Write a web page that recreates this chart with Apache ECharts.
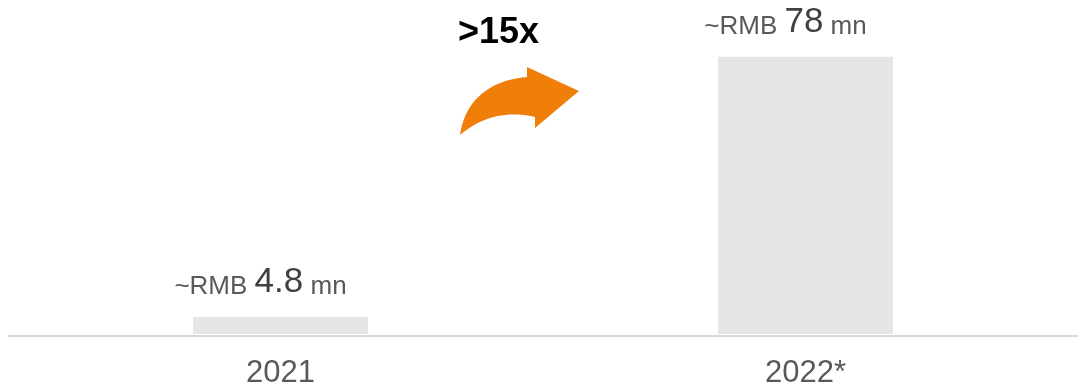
<!DOCTYPE html>
<html>
<head>
<meta charset="utf-8">
<script src="https://cdn.jsdelivr.net/npm/echarts@6/dist/echarts.min.js"></script>
<style>
    html, body { margin: 0; padding: 0; background: #fff; }
    #main { width: 1078px; height: 389px; }
</style>
</head>
<body>
<div id="main"></div>
<script>
// 年份与金额（百万人民币）
var years = ['2021', '2022*'];
var amounts = [4.8, 78];
var prefix = '~RMB';
var unit = 'mn';
var growthText = '>15x';

/**
 * 三次贝塞尔曲线取点（用于箭头装饰）
 */
function bezierPoints(p0, p1, p2, p3, n) {
    var pts = [];
    for (var i = 0; i <= n; i++) {
        var t = i / n, u = 1 - t;
        pts.push([
            u * u * u * p0[0] + 3 * u * u * t * p1[0] + 3 * u * t * t * p2[0] + t * t * t * p3[0],
            u * u * u * p0[1] + 3 * u * u * t * p1[1] + 3 * u * t * t * p2[1] + t * t * t * p3[1]
        ]);
    }
    return pts;
}

/**
 * 收入增长柱状图
 */
function growthChart() {
    var myChart = echarts.init(document.getElementById('main'));
    var arrow = bezierPoints([460, 135], [465, 100], [490, 80], [527, 77], 20)
        .concat([[527, 67], [579, 91], [535, 128], [535, 117]])
        .concat(bezierPoints([535, 117], [505, 110], [480, 118], [460, 135], 20));
    var option = {
        animation: false,
        grid: {
            left: 18,
            right: 10,
            top: 14,
            bottom: 53
        },
        xAxis: {
            type: 'category',
            data: years,
            axisLine: {show: false},
            axisTick: {show: false},
            axisLabel: {
                margin: 24,
                fontSize: 31,
                color: '#595959',
                fontFamily: 'Liberation Sans, Arial, sans-serif'
            }
        },
        yAxis: {
            type: 'value',
            min: 0,
            max: 90,
            show: false
        },
        series: [
            {
                type: 'bar',
                data: amounts,
                barWidth: 175,
                itemStyle: {color: '#e6e6e6'},
                label: {
                    show: true,
                    position: 'top',
                    distance: 17,
                    offset: [-20, 0],
                    formatter: function (p) {
                        return '{a|' + prefix + ' }{b|' + p.value + '}{a| ' + unit + '}';
                    },
                    rich: {
                        a: {
                            fontSize: 26,
                            color: '#595959',
                            fontFamily: 'Liberation Sans, Arial, sans-serif',
                            verticalAlign: 'bottom'
                        },
                        b: {
                            fontSize: 35,
                            color: '#404040',
                            fontFamily: 'Liberation Sans, Arial, sans-serif',
                            verticalAlign: 'bottom'
                        }
                    }
                }
            }
        ],
        graphic: [
            {
                type: 'line',
                z: 0,
                shape: {x1: 8, y1: 336, x2: 1078, y2: 336},
                style: {stroke: '#d9d9d9', lineWidth: 2}
            },
            {
                type: 'text',
                x: 458,
                y: 15,
                style: {
                    text: growthText,
                    fontSize: 36,
                    fontWeight: 'bold',
                    fill: '#000',
                    fontFamily: 'Liberation Sans, Arial, sans-serif'
                }
            },
            {
                type: 'polygon',
                shape: {points: arrow},
                style: {fill: '#f07f0a'}
            }
        ]
    };
    myChart.setOption(option, true);
}

growthChart();
</script>
</body>
</html>
